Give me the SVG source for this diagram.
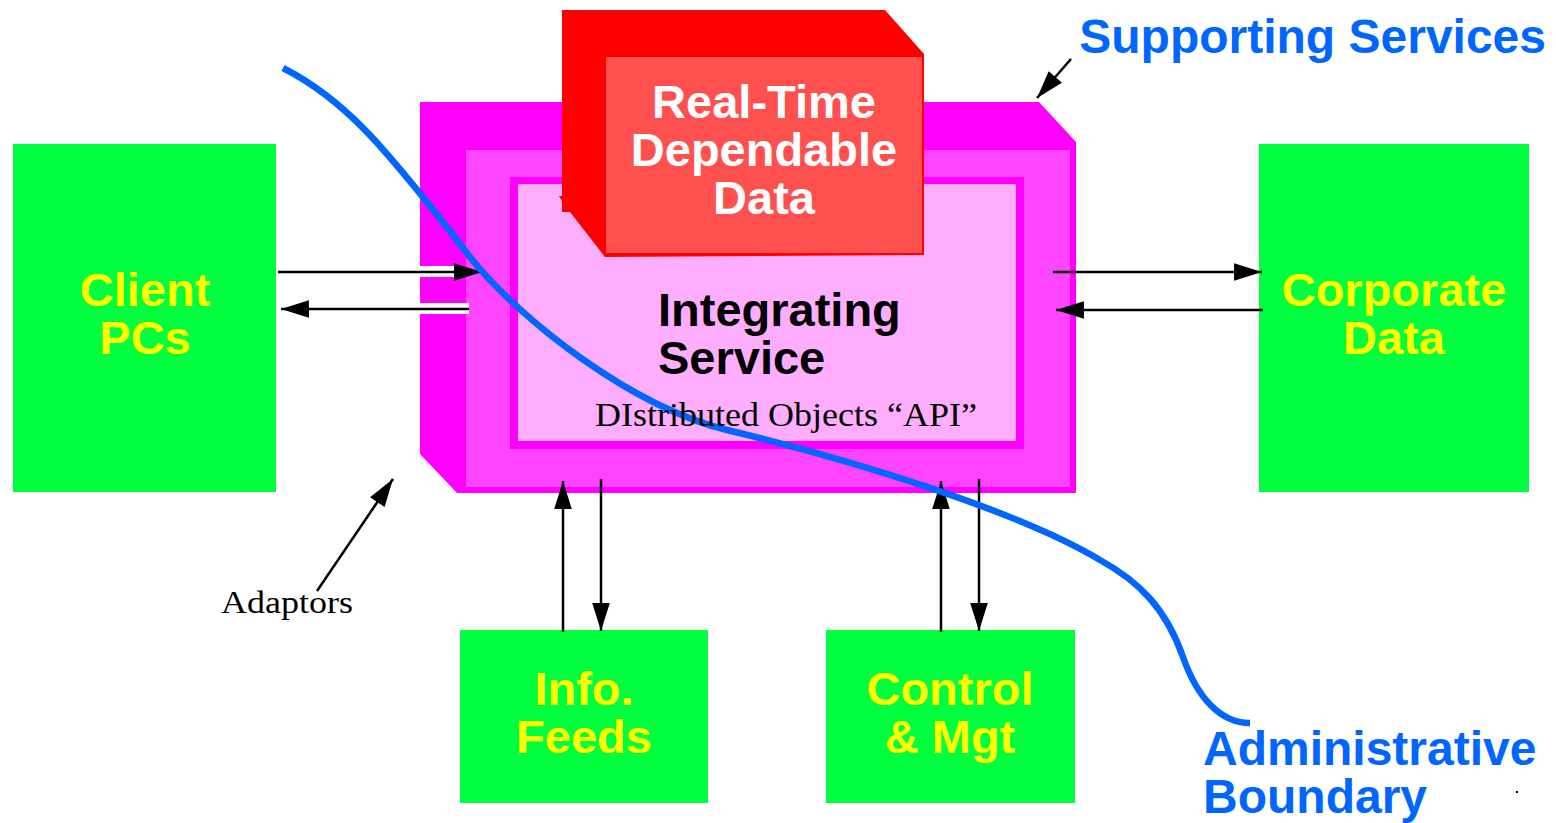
<svg xmlns="http://www.w3.org/2000/svg" width="1556" height="823" viewBox="0 0 1556 823">
<style>
.green{fill:#00ff3f}
.lbl{font-family:"Liberation Sans",Arial,sans-serif;font-weight:bold;font-size:47px}
.yel{fill:#ffff00}
.blue{fill:#0066ff;font-size:48px}
.ser{font-family:"Liberation Serif","Times New Roman",serif;fill:#000}
.arr{stroke:#000;stroke-width:2.5;fill:none;marker-end:url(#ah)}
.halo{stroke:#fff;stroke-width:11;fill:none}
</style>
<defs>
<marker id="ah" markerUnits="userSpaceOnUse" markerWidth="30" markerHeight="20" viewBox="-28 -9 29 18" refX="0" refY="0" orient="auto">
<path d="M0,0 L-27,-8.5 L-27,8.5 z" fill="#000"/>
</marker>
</defs>
<rect width="1556" height="823" fill="#fff"/>

<g id="client-pcs">
<rect class="green" x="13" y="144" width="263" height="348"/>
<text class="lbl yel" text-anchor="middle"><tspan x="145" y="306">Client</tspan><tspan x="145" y="354">PCs</tspan></text>
</g>
<g id="corporate-data">
<rect class="green" x="1259" y="144" width="270" height="348"/>
<text class="lbl yel" text-anchor="middle"><tspan x="1394" y="306">Corporate</tspan><tspan x="1394" y="354">Data</tspan></text>
</g>
<g id="info-feeds">
<rect class="green" x="460" y="630" width="248" height="173"/>
<text class="lbl yel" text-anchor="middle"><tspan x="584" y="705">Info.</tspan><tspan x="584" y="753">Feeds</tspan></text>
</g>
<g id="control-mgt">
<rect class="green" x="826" y="630" width="249" height="173"/>
<text class="lbl yel" text-anchor="middle"><tspan x="950" y="705">Control</tspan><tspan x="950" y="753">&amp; Mgt</tspan></text>
</g>

<g id="integrating-service">
<polygon points="420,102 1039,102 1076,142 1076,493 457,493 420,454" fill="#ff00ff"/>
<rect x="466" y="150" width="604" height="337" fill="#ff44ff"/>
<rect x="510" y="177" width="514" height="272" fill="#ff00ff"/>
<rect x="518" y="184" width="498" height="257" fill="#ffaeff"/>
<text class="lbl" fill="#000" font-size="46"><tspan x="658" y="326">Integrating</tspan><tspan x="658" y="374">Service</tspan></text>
</g>

<g id="realtime-data">
<polygon points="562,10 885,10 924,54 924,255 605,257 570,212 562,212" fill="#ff0000"/>
<polygon points="559,196 566,196 563,203" fill="#ff0000"/>
<rect x="605" y="56" width="318" height="198" fill="#ff5050" stroke="#ff0000" stroke-width="2"/>
<text class="lbl" fill="#fff" text-anchor="middle"><tspan x="764" y="118">Real-Time</tspan><tspan x="764" y="166">Dependable</tspan><tspan x="764" y="214">Data</tspan></text>
</g>

<g id="connectors">
<line class="halo" x1="420" y1="271.5" x2="460" y2="271.5"/>
<line class="halo" x1="420" y1="308.5" x2="469" y2="308.5"/>
<line class="arr" x1="278" y1="272" x2="482" y2="272"/>
<line class="arr" x1="469" y1="309" x2="281" y2="309"/>
<line class="arr" x1="1053" y1="272" x2="1262" y2="272"/>
<line class="arr" x1="1263" y1="310" x2="1056" y2="310"/>
<line class="arr" x1="563" y1="632" x2="563" y2="481"/>
<line class="arr" x1="601" y1="479" x2="601" y2="631"/>
<line class="arr" x1="941" y1="632" x2="941" y2="481"/>
<line class="arr" x1="979" y1="479" x2="979" y2="631"/>
<line class="arr" stroke-width="1.5" x1="1071" y1="59" x2="1037" y2="98"/>
<line class="arr" stroke-width="1.5" x1="317" y1="591" x2="393" y2="479"/>
</g>

<g id="administrative-boundary">
<path d="M283,68 C342,98 380,140 470,257 C520,320 632,407 727,430 C857,461 1020,512 1100,560 C1140,582 1166,609 1183,657 C1197,697 1220,723 1250,723" fill="none" stroke="#0066ff" stroke-width="6.5"/>
</g>

<g id="labels">
<text class="ser" x="595" y="426" font-size="34" textLength="382" lengthAdjust="spacingAndGlyphs">DIstributed Objects “API”</text>
<text class="ser" x="221" y="613" font-size="31" textLength="132" lengthAdjust="spacingAndGlyphs">Adaptors</text>
<text class="lbl blue" x="1546" y="53" text-anchor="end">Supporting Services</text>
<text class="lbl blue"><tspan x="1203" y="765">Administrative</tspan><tspan x="1203" y="813">Boundary</tspan></text>
<rect x="1516" y="791" width="2" height="2" fill="#000"/>
</g>
</svg>
